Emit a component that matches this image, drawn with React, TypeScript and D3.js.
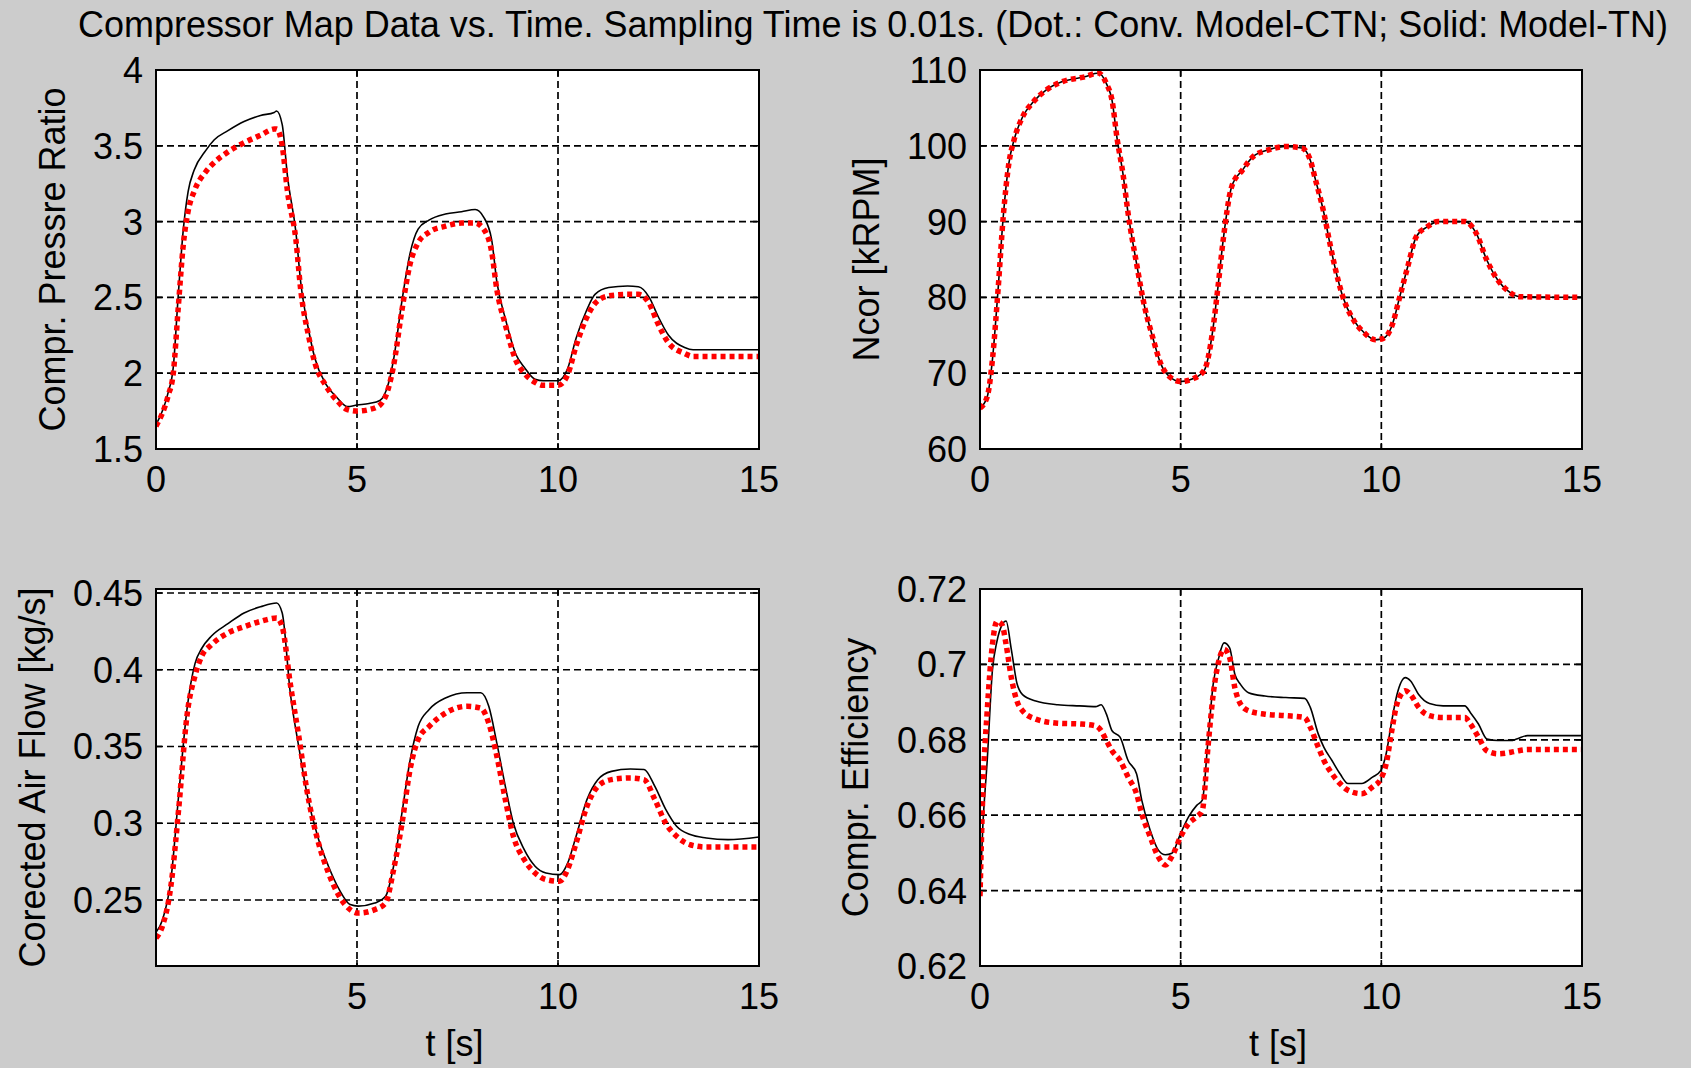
import React from 'react';
import * as d3 from 'd3';

// ---------- DATA ----------
const titleText = 'Compressor Map Data vs. Time. Sampling Time is 0.01s. (Dot.: Conv. Model-CTN; Solid: Model-TN)';
const xLabelText = 't [s]';

// Panel 1: compressor pressure ratio
const tPR = [0, 0.3, 0.43, 0.55, 0.68, 0.8, 0.95, 1.24, 1.45, 1.79, 2.19, 2.6, 2.94, 3.0, 3.14, 3.27, 3.48, 3.6, 3.8, 3.95, 4.22, 4.5, 4.76, 5.0, 5.3, 5.57, 5.78, 5.91, 6.12, 6.32, 6.52, 6.79, 7.2, 7.6, 7.94, 8.15, 8.35, 8.48, 8.69, 8.96, 9.16, 9.43, 9.63, 10.0, 10.24, 10.45, 10.72, 10.92, 11.26, 11.73, 12.0, 12.27, 12.48, 12.75, 13.15, 13.36, 15];
const prTN = [1.66, 1.87, 2.04, 2.5, 2.95, 3.2, 3.34, 3.47, 3.54, 3.6, 3.66, 3.7, 3.72, 3.73, 3.64, 3.3, 2.93, 2.6, 2.28, 2.1, 1.93, 1.84, 1.78, 1.79, 1.8, 1.82, 1.93, 2.09, 2.48, 2.79, 2.95, 3.01, 3.05, 3.065, 3.08, 3.03, 2.88, 2.6, 2.36, 2.12, 2.04, 1.96, 1.95, 1.95, 2.03, 2.23, 2.42, 2.52, 2.565, 2.575, 2.57, 2.5, 2.38, 2.25, 2.17, 2.155, 2.155];
const prCTN = [1.65, 1.85, 2.0, 2.42, 2.85, 3.07, 3.2, 3.33, 3.39, 3.46, 3.52, 3.57, 3.61, 3.61, 3.5, 3.2, 2.88, 2.55, 2.24, 2.07, 1.92, 1.82, 1.76, 1.75, 1.76, 1.79, 1.9, 2.05, 2.42, 2.72, 2.86, 2.93, 2.97, 2.99, 2.99, 2.95, 2.8, 2.55, 2.32, 2.08, 2.0, 1.94, 1.92, 1.92, 1.99, 2.18, 2.37, 2.46, 2.51, 2.52, 2.52, 2.46, 2.33, 2.2, 2.13, 2.11, 2.11];
const prTicks = [1.5, 2, 2.5, 3, 3.5, 4];

// Panel 2: corrected speed
const tNC = [0, 0.18, 0.31, 0.45, 0.58, 0.72, 0.85, 1.06, 1.33, 1.66, 2.07, 2.61, 2.95, 3.15, 3.29, 3.42, 3.56, 3.69, 3.9, 4.1, 4.3, 4.5, 4.71, 5.0, 5.32, 5.59, 5.79, 5.93, 6.06, 6.27, 6.54, 6.81, 7.21, 7.62, 8.02, 8.23, 8.36, 8.57, 8.7, 8.84, 9.04, 9.31, 9.58, 9.85, 10.05, 10.26, 10.46, 10.66, 10.87, 11.14, 11.41, 12.09, 12.36, 12.63, 12.9, 13.17, 13.44, 15];
const ncTN = [65.4, 66.9, 71.8, 81, 90.7, 97.7, 100.8, 103.8, 105.8, 107.4, 108.5, 109.1, 109.6, 108.2, 106, 100.8, 96.4, 91.1, 84.5, 78.8, 74.8, 71.3, 69.6, 68.9, 69.3, 70.4, 75.3, 81.4, 87.6, 94.6, 96.8, 98.6, 99.5, 99.9, 99.7, 98.1, 95.5, 91.1, 87.6, 84.1, 80.1, 77, 75.3, 74.4, 74.6, 76.2, 80.1, 84.1, 88, 89.3, 90, 90, 88.5, 84.9, 82.3, 80.8, 80.1, 80];
const ncCTN = [65.4, 66.9, 71.8, 81, 90.7, 97.7, 100.8, 103.8, 105.8, 107.4, 108.5, 109.1, 109.6, 108.2, 106, 100.8, 96.4, 91.1, 84.5, 78.8, 74.8, 71.3, 69.6, 68.9, 69.3, 70.4, 75.3, 81.4, 87.6, 94.6, 96.8, 98.6, 99.5, 99.9, 99.7, 98.1, 95.5, 91.1, 87.6, 84.1, 80.1, 77, 75.3, 74.4, 74.6, 76.2, 80.1, 84.1, 88, 89.3, 90, 90, 88.5, 84.9, 82.3, 80.8, 80.1, 80];
const ncTicks = [60, 70, 80, 90, 100, 110];

// Panel 3: corrected air flow
const tAF = [0, 0.16, 0.37, 0.57, 0.77, 0.97, 1.14, 1.38, 1.79, 2.19, 2.6, 3.0, 3.14, 3.34, 3.55, 3.75, 4.02, 4.29, 4.56, 4.83, 5.03, 5.44, 5.71, 5.91, 6.12, 6.32, 6.52, 6.79, 7.2, 7.74, 8.08, 8.28, 8.48, 8.69, 8.89, 9.16, 9.43, 9.7, 10.04, 10.24, 10.45, 10.72, 10.99, 11.33, 11.8, 12.14, 12.41, 12.68, 12.95, 13.29, 13.69, 14.23, 15];
const afTN = [0.229, 0.237, 0.263, 0.32, 0.374, 0.404, 0.414, 0.422, 0.43, 0.437, 0.441, 0.4435, 0.437, 0.385, 0.35, 0.32, 0.2915, 0.272, 0.2567, 0.247, 0.246, 0.248, 0.2524, 0.272, 0.307, 0.341, 0.363, 0.374, 0.3816, 0.385, 0.385, 0.376, 0.352, 0.324, 0.3, 0.2828, 0.272, 0.2676, 0.2665, 0.274, 0.2915, 0.3154, 0.3284, 0.3338, 0.3353, 0.335, 0.324, 0.309, 0.298, 0.2926, 0.2904, 0.2893, 0.291];
const afCTN = [0.2252, 0.233, 0.259, 0.311, 0.37, 0.396, 0.409, 0.4163, 0.424, 0.428, 0.4315, 0.4337, 0.428, 0.391, 0.357, 0.322, 0.2893, 0.2676, 0.2524, 0.2437, 0.2415, 0.2437, 0.248, 0.2698, 0.3, 0.335, 0.3545, 0.363, 0.3718, 0.3762, 0.375, 0.365, 0.3436, 0.3154, 0.2915, 0.2763, 0.2676, 0.2633, 0.2622, 0.27, 0.2871, 0.311, 0.324, 0.3284, 0.3295, 0.3284, 0.3154, 0.3, 0.2915, 0.286, 0.2845, 0.2845, 0.2845];
const afTicks = [0.25, 0.3, 0.35, 0.4, 0.45];

// Panel 4: compressor efficiency
const tEF = [0, 0.07, 0.18, 0.31, 0.42, 0.55, 0.65, 0.78, 0.92, 1.06, 1.39, 1.94, 2.48, 2.88, 3.02, 3.15, 3.29, 3.49, 3.69, 3.9, 4.03, 4.24, 4.44, 4.62, 4.78, 5.0, 5.2, 5.4, 5.54, 5.68, 5.81, 5.95, 6.08, 6.22, 6.35, 6.49, 6.69, 7.1, 7.62, 8.09, 8.23, 8.43, 8.57, 8.77, 8.97, 9.17, 9.51, 9.78, 9.99, 10.12, 10.26, 10.39, 10.6, 10.73, 10.93, 11.2, 11.54, 12.08, 12.22, 12.42, 12.63, 12.9, 13.23, 13.37, 13.64, 15];
const efTN = [0.6393, 0.657, 0.6745, 0.6985, 0.706, 0.7105, 0.7115, 0.704, 0.695, 0.692, 0.6903, 0.6893, 0.689, 0.6888, 0.6893, 0.6868, 0.6824, 0.6807, 0.6745, 0.671, 0.664, 0.656, 0.6508, 0.6495, 0.6499, 0.6552, 0.6596, 0.6626, 0.664, 0.6798, 0.6947, 0.7018, 0.7057, 0.7044, 0.6974, 0.6947, 0.6925, 0.6916, 0.6912, 0.691, 0.6886, 0.6815, 0.678, 0.6745, 0.671, 0.6684, 0.6684, 0.6701, 0.6719, 0.6763, 0.685, 0.692, 0.6965, 0.6956, 0.692, 0.6896, 0.689, 0.689, 0.6872, 0.6842, 0.6802, 0.6798, 0.6798, 0.6802, 0.6811, 0.6811];
const efCTN = [0.6385, 0.6657, 0.6877, 0.7053, 0.7114, 0.7105, 0.7053, 0.6965, 0.6903, 0.6877, 0.6855, 0.6844, 0.6842, 0.6837, 0.6824, 0.6798, 0.6771, 0.6745, 0.6701, 0.6657, 0.6604, 0.6543, 0.649, 0.6468, 0.649, 0.6543, 0.6578, 0.6596, 0.6613, 0.678, 0.692, 0.7009, 0.704, 0.7018, 0.6938, 0.6895, 0.6877, 0.6868, 0.6864, 0.6859, 0.6833, 0.678, 0.6745, 0.671, 0.6684, 0.6666, 0.6657, 0.6675, 0.6697, 0.6736, 0.6824, 0.6895, 0.693, 0.692, 0.6886, 0.6864, 0.6859, 0.6859, 0.6842, 0.6807, 0.6771, 0.6763, 0.6767, 0.677, 0.6774, 0.6774];
const efTicks = [0.62, 0.64, 0.66, 0.68, 0.7, 0.72];

const xTicksFull = [0, 5, 10, 15];
const xTicksNoZero = [5, 10, 15];

// ---------- LAYOUT ----------
const W = 1691;
const H = 1068;
const FONT = '"Liberation Sans", Arial, Helvetica, sans-serif';
const FS = 36;
const BG = '#cccccc';

type PanelCfg = {
  id: string;
  x0: number; x1: number; y0: number; y1: number;
  yDomain: [number, number];
  yTicks: number[];
  xTicks: number[];
  label: string;
  labelX: number;
  t: number[]; tn: number[]; ctn: number[];
  xLabel: boolean;
};

const panels: PanelCfg[] = [
  { id: 'pr', x0: 156, x1: 759, y0: 70, y1: 449, yDomain: [1.5, 4], yTicks: prTicks, xTicks: xTicksFull,
    label: 'Compr. Pressre Ratio', labelX: 65, t: tPR, tn: prTN, ctn: prCTN, xLabel: false },
  { id: 'nc', x0: 980, x1: 1582, y0: 70, y1: 449, yDomain: [60, 110], yTicks: ncTicks, xTicks: xTicksFull,
    label: 'Ncor [kRPM]', labelX: 879, t: tNC, tn: ncTN, ctn: ncCTN, xLabel: false },
  { id: 'af', x0: 156, x1: 759, y0: 589, y1: 966, yDomain: [0.207, 0.4526], yTicks: afTicks, xTicks: xTicksNoZero,
    label: 'Corected Air Flow [kg/s]', labelX: 45, t: tAF, tn: afTN, ctn: afCTN, xLabel: true },
  { id: 'ef', x0: 980, x1: 1582, y0: 589, y1: 966, yDomain: [0.62, 0.72], yTicks: efTicks, xTicks: xTicksFull,
    label: 'Compr. Efficiency', labelX: 868, t: tEF, tn: efTN, ctn: efCTN, xLabel: true },
];

function Panel({ cfg }: { cfg: PanelCfg }) {
  const x = d3.scaleLinear().domain([0, 15]).range([cfg.x0, cfg.x1]);
  const y = d3.scaleLinear().domain(cfg.yDomain).range([cfg.y1, cfg.y0]);
  const line = d3.line<number>()
    .x((_, i) => x(cfg.t[i]))
    .y((d) => y(d))
    .curve(d3.curveMonotoneX);
  const clipId = `clip-${cfg.id}`;
  const tickLen = 6;
  const cy = (cfg.y0 + cfg.y1) / 2;
  const cx = (cfg.x0 + cfg.x1) / 2;
  return (
    <g>
      <defs>
        <clipPath id={clipId}>
          <rect x={cfg.x0} y={cfg.y0} width={cfg.x1 - cfg.x0} height={cfg.y1 - cfg.y0} />
        </clipPath>
      </defs>
      <rect x={cfg.x0} y={cfg.y0} width={cfg.x1 - cfg.x0} height={cfg.y1 - cfg.y0} fill="#ffffff" />
      {/* grid */}
      <g stroke="#000" strokeWidth={1.7} strokeDasharray="7,4" fill="none">
        {cfg.yTicks.map((v) => (
          <line key={`gy${v}`} x1={cfg.x0} x2={cfg.x1} y1={y(v)} y2={y(v)} />
        ))}
        {cfg.xTicks.map((v) => (
          <line key={`gx${v}`} x1={x(v)} x2={x(v)} y1={cfg.y0} y2={cfg.y1} />
        ))}
      </g>
      {/* ticks */}
      <g stroke="#000" strokeWidth={1.6}>
        {cfg.yTicks.map((v) => (
          <g key={`ty${v}`}>
            <line x1={cfg.x0} x2={cfg.x0 + tickLen} y1={y(v)} y2={y(v)} />
            <line x1={cfg.x1} x2={cfg.x1 - tickLen} y1={y(v)} y2={y(v)} />
          </g>
        ))}
        {cfg.xTicks.map((v) => (
          <g key={`tx${v}`}>
            <line x1={x(v)} x2={x(v)} y1={cfg.y1} y2={cfg.y1 - tickLen} />
            <line x1={x(v)} x2={x(v)} y1={cfg.y0} y2={cfg.y0 + tickLen} />
          </g>
        ))}
      </g>
      {/* data */}
      <g clipPath={`url(#${clipId})`} fill="none">
        <path d={line(cfg.tn) || ''} stroke="#000" strokeWidth={1.6} />
        <path d={line(cfg.ctn) || ''} stroke="#ff0000" strokeWidth={5.5} strokeDasharray="5,4" />
      </g>
      {/* frame */}
      <rect x={cfg.x0} y={cfg.y0} width={cfg.x1 - cfg.x0} height={cfg.y1 - cfg.y0} fill="none" stroke="#000" strokeWidth={2} />
      {/* tick labels */}
      <g fontFamily={FONT} fontSize={FS} fill="#000">
        {cfg.yTicks.map((v) => (
          <text key={`ly${v}`} x={cfg.x0 - 13} y={y(v)} dy="0.36em" textAnchor="end">{String(v)}</text>
        ))}
        {cfg.xTicks.map((v) => (
          <text key={`lx${v}`} x={x(v)} y={cfg.y1 + 43} textAnchor="middle">{String(v)}</text>
        ))}
        <text transform={`translate(${cfg.labelX},${cy}) rotate(-90)`} textAnchor="middle">{cfg.label}</text>
        {cfg.xLabel && (
          <text x={cx - 3} y={cfg.y1 + 90} textAnchor="middle">{xLabelText}</text>
        )}
      </g>
    </g>
  );
}

export default function App() {
  return (
    <svg
      width={W}
      height={H}
      viewBox={`0 0 ${W} ${H}`}
      style={{ position: 'absolute', left: 0, top: 0, display: 'block' }}
    >
      <rect x={0} y={0} width={W} height={H} fill={BG} />
      <text
        x={873}
        y={37}
        textAnchor="middle"
        fontFamily={FONT}
        fontSize={FS}
        fill="#000"
        textLength={1590}
        lengthAdjust="spacingAndGlyphs"
      >
        {titleText}
      </text>
      {panels.map((p) => (
        <Panel key={p.id} cfg={p} />
      ))}
    </svg>
  );
}
